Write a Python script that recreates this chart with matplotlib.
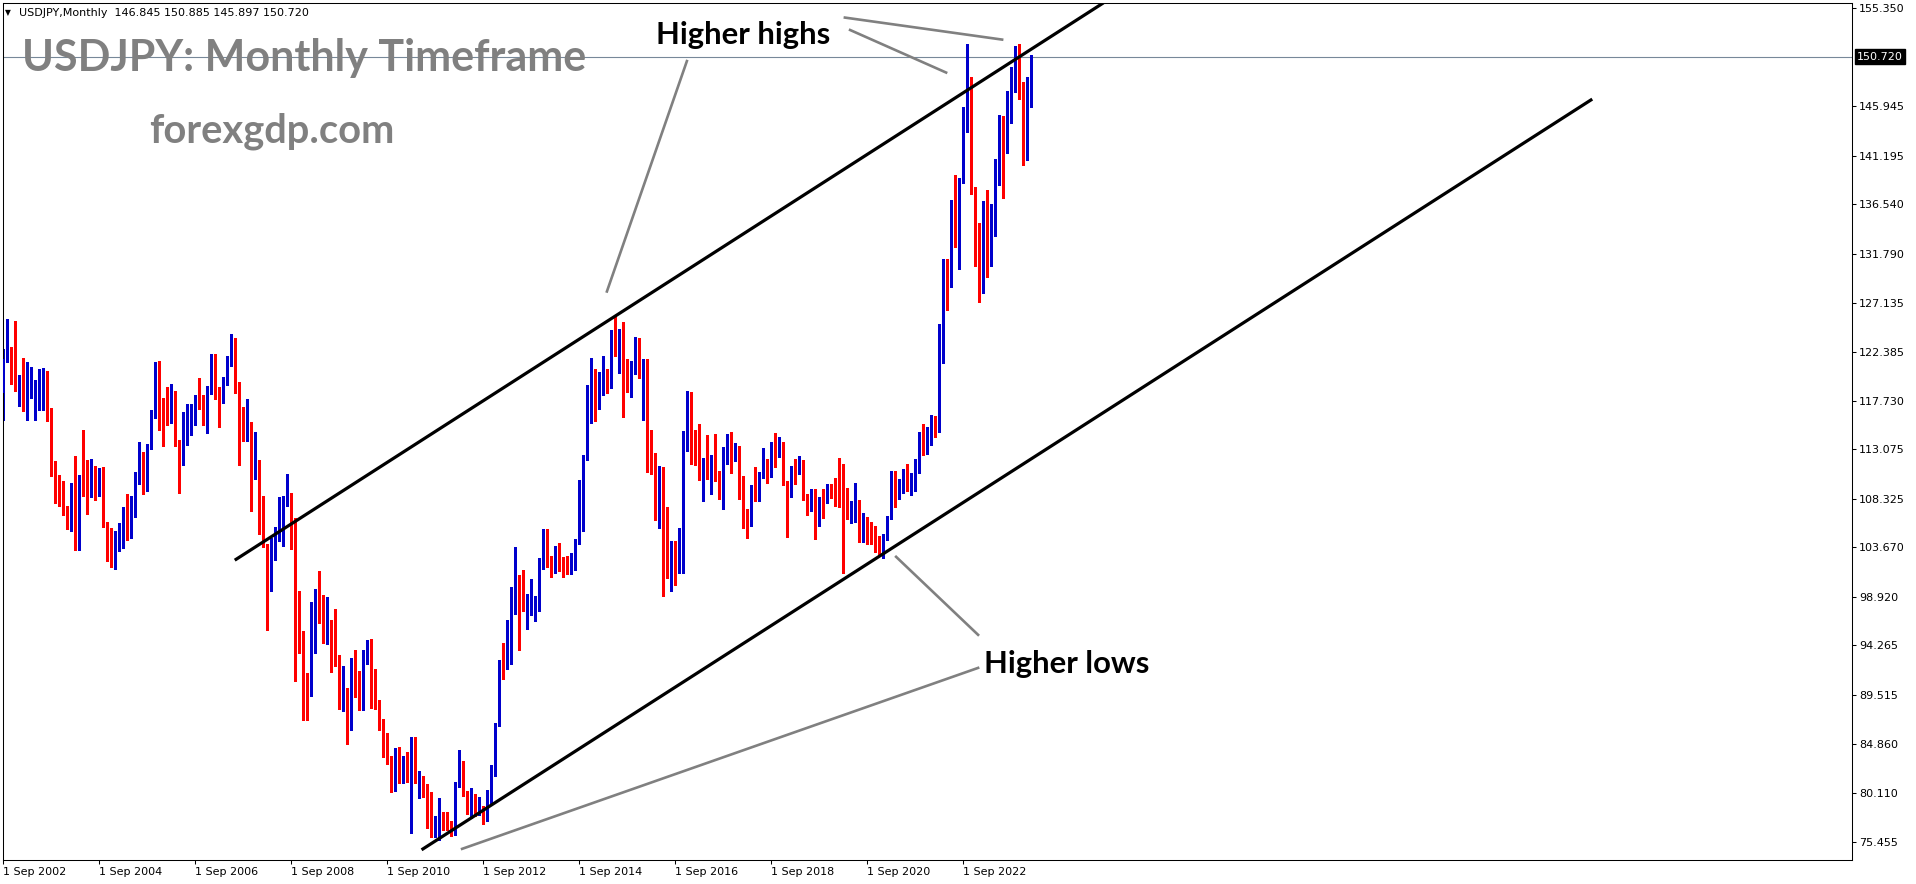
import matplotlib.pyplot as plt

# USDJPY monthly candles, Sep 2002 .. Feb 2024 (one value per month)
opens = [
    118.5, 121.7, 122.5, 122.4,
    118.8, 119.9, 117.5, 118.1, 119.0, 119.3, 119.8, 120.5, 116.7, 111.4, 109.8, 109.6,
    107.3, 105.6, 109.0, 104.2, 110.5, 109.5, 108.7, 111.2, 109.0, 110.1, 105.8, 103.1,
    102.6, 103.7, 104.6, 107.3, 104.8, 108.6, 110.9, 112.5, 110.9, 113.4, 116.7, 119.8,
    117.8, 117.2, 115.8, 117.7, 113.8, 112.5, 114.4, 114.6, 117.2, 118.1, 117.0, 115.7,
    119.0, 120.7, 118.4, 117.8, 119.5, 121.7, 123.2, 118.6, 115.8, 114.8, 115.4, 111.2,
    111.7, 106.3, 103.9, 99.7, 104.0, 105.5, 106.1, 108.1, 108.8, 106.1, 98.5, 95.5,
    90.7, 89.9, 97.6, 99.0, 98.6, 95.3, 96.4, 94.7, 93.0, 89.7, 90.1, 86.4,
    93.0, 90.3, 88.9, 93.5, 94.0, 91.3, 88.4, 86.5, 84.2, 83.5, 80.4, 83.7,
    81.2, 82.0, 81.8, 83.1, 81.2, 81.5, 80.6, 77.0, 76.7, 77.1, 78.2, 77.6,
    76.9, 76.2, 81.1, 82.9, 79.9, 78.3, 79.8, 78.1, 78.4, 77.9, 79.8, 82.5,
    86.7, 92.6, 92.4, 94.2, 97.4, 100.4, 99.1, 97.9, 98.2, 98.3, 98.4, 102.4,
    105.3, 102.0, 101.8, 103.2, 102.2, 101.8, 101.3, 102.8, 104.1, 109.6, 112.3, 118.6,
    119.8, 117.4, 119.6, 120.1, 119.4, 124.2, 122.5, 123.9, 121.2, 119.9, 120.6, 123.1,
    120.2, 121.1, 112.7, 112.6, 106.5, 110.7, 103.3, 102.1, 103.4, 101.3, 104.8, 114.5,
    117.0, 112.8, 112.7, 111.4, 111.5, 110.8, 112.4, 110.3, 110.0, 112.5, 113.6, 112.5,
    112.7, 109.2, 106.6, 106.3, 109.3, 108.8, 110.7, 111.8, 111.0, 113.7, 112.9, 113.6,
    109.7, 108.9, 111.4, 110.8, 111.4, 108.3, 107.8, 108.8, 106.3, 108.1, 108.0, 109.5,
    108.6, 108.4, 107.9, 107.5, 106.9, 107.8, 107.9, 105.9, 106.0, 105.5, 104.6, 104.3,
    103.2, 104.7, 106.6, 110.7, 109.3, 109.6, 111.1, 109.7, 110.0, 111.3, 113.9, 113.2,
    115.1, 115.2, 115.0, 121.7, 129.8, 128.7, 135.7, 133.2, 138.7, 144.7, 148.7, 138.1,
    131.1, 130.1, 136.2, 132.8, 136.3, 139.3, 144.3, 142.3, 145.5, 149.4, 151.7, 148.2,
    141.0, 146.845,
]
highs = [
    122.7, 125.6, 122.9, 125.4,
    120.2, 121.8, 121.4, 121.0, 119.7, 120.8, 120.9, 120.6, 117.0, 111.9, 110.6, 110.0,
    107.6, 109.8, 112.4, 110.6, 114.9, 112.0, 112.1, 111.5, 111.3, 111.4, 106.1, 105.5,
    105.2, 106.0, 107.5, 108.8, 108.6, 110.9, 113.8, 112.8, 113.6, 116.8, 121.4, 121.5,
    118.0, 119.0, 119.3, 118.7, 114.0, 116.6, 117.4, 117.4, 118.3, 119.9, 118.3, 119.1,
    122.2, 122.2, 119.0, 120.0, 122.0, 124.1, 123.7, 119.5, 117.1, 117.9, 115.7, 114.7,
    112.0, 108.6, 104.0, 104.6, 105.6, 108.5, 108.6, 110.7, 108.9, 106.5, 99.5, 95.6,
    91.6, 98.4, 99.7, 101.4, 99.1, 98.9, 96.7, 97.8, 93.3, 92.3, 90.2, 93.1,
    93.8, 91.8, 93.8, 94.8, 94.9, 92.0, 89.0, 87.2, 85.9, 83.7, 84.4, 84.5,
    83.7, 84.0, 85.5, 85.5, 82.2, 81.7, 81.0, 80.2, 77.9, 79.6, 78.3, 78.3,
    77.4, 81.2, 84.2, 83.2, 80.3, 80.6, 80.0, 79.7, 78.9, 80.4, 82.8, 86.8,
    92.9, 94.5, 96.7, 99.9, 103.7, 101.0, 101.5, 99.2, 100.6, 99.0, 102.6, 105.4,
    105.4, 102.8, 103.8, 104.1, 102.7, 102.8, 103.1, 104.5, 110.1, 112.5, 119.2, 121.8,
    120.8, 120.5, 122.0, 120.8, 124.5, 125.9, 124.6, 125.3, 121.7, 121.5, 123.8, 123.7,
    121.7, 121.7, 114.9, 112.7, 111.5, 111.4, 107.5, 104.3, 104.3, 105.5, 114.8, 118.7,
    118.6, 114.9, 115.5, 112.2, 114.4, 112.5, 114.5, 111.0, 113.3, 114.5, 114.7, 113.7,
    113.4, 110.5, 107.3, 109.6, 111.4, 110.9, 113.2, 112.1, 113.8, 114.6, 114.2, 113.8,
    110.0, 111.5, 112.1, 112.4, 112.0, 108.8, 109.3, 109.3, 108.5, 109.3, 109.7, 109.7,
    110.3, 112.2, 111.7, 109.4, 108.1, 109.8, 108.2, 107.0, 106.6, 106.1, 105.7, 104.8,
    104.9, 106.7, 111.0, 111.0, 110.2, 111.2, 111.7, 110.8, 112.1, 114.7, 115.5, 115.2,
    116.4, 116.3, 125.1, 131.3, 131.3, 137.0, 139.4, 139.1, 145.9, 151.95, 148.8, 138.2,
    134.8, 136.9, 137.9, 136.6, 140.9, 145.1, 145.0, 147.4, 149.7, 151.75, 151.9, 148.3,
    148.8, 150.885,
]
lows = [
    115.9, 121.4, 119.3, 118.7,
    117.2, 116.7, 115.9, 118.0, 115.9, 116.8, 116.8, 115.8, 110.5, 107.9, 107.6, 106.8,
    105.4, 105.2, 103.4, 103.4, 108.6, 106.9, 108.5, 108.2, 108.6, 105.6, 102.4, 101.8,
    101.6, 103.3, 103.6, 104.4, 104.6, 106.6, 109.7, 108.8, 109.1, 113.1, 116.1, 114.9,
    113.4, 115.4, 115.6, 113.4, 108.9, 111.6, 113.5, 114.4, 115.4, 116.9, 115.4, 114.6,
    118.4, 117.9, 115.2, 117.5, 119.2, 121.1, 118.5, 111.6, 113.9, 113.9, 107.2, 110.2,
    104.9, 103.7, 95.7, 99.5, 102.5, 104.3, 103.8, 107.6, 103.5, 90.9, 93.5, 87.1,
    87.1, 89.4, 93.5, 96.4, 94.5, 94.4, 91.7, 92.3, 88.2, 88.0, 84.8, 86.2,
    89.3, 88.1, 88.1, 92.5, 88.3, 88.2, 86.2, 83.6, 82.9, 80.2, 80.3, 81.1,
    81.1, 81.2, 76.3, 81.1, 79.6, 79.7, 76.8, 75.9, 75.9, 75.6, 76.6, 76.6,
    76.0, 76.1, 80.7, 79.8, 78.1, 77.7, 77.9, 78.0, 77.1, 77.4, 79.1, 81.7,
    86.5, 91.0, 92.0, 92.5, 97.3, 93.8, 97.6, 95.8, 97.2, 96.6, 97.6, 101.6,
    101.8, 100.8, 101.2, 101.4, 100.8, 101.1, 101.1, 101.5, 104.0, 105.2, 112.0, 115.6,
    115.8, 116.9, 118.3, 118.5, 118.9, 122.0, 120.4, 116.2, 118.6, 118.1, 120.3, 119.9,
    115.9, 110.9, 110.7, 106.3, 105.5, 99.0, 100.7, 99.5, 100.1, 101.2, 101.2, 112.9,
    111.7, 111.6, 110.1, 108.1, 110.2, 108.8, 110.0, 108.3, 107.3, 111.7, 110.8, 111.9,
    108.3, 105.5, 104.6, 105.7, 108.1, 108.1, 110.3, 109.8, 110.4, 111.4, 112.3, 109.6,
    104.7, 108.5, 109.7, 110.7, 108.2, 106.8, 107.2, 104.5, 105.7, 106.5, 107.9, 108.4,
    107.6, 107.5, 101.2, 106.4, 106.0, 106.1, 104.2, 104.2, 104.0, 104.0, 103.2, 102.9,
    102.6, 104.4, 106.4, 107.5, 108.3, 108.9, 109.1, 108.7, 109.1, 110.8, 112.5, 112.6,
    113.5, 114.2, 114.7, 121.3, 126.4, 128.6, 132.5, 130.4, 138.6, 143.5, 137.5, 130.6,
    127.2, 128.1, 129.6, 130.6, 133.5, 138.4, 137.2, 141.5, 144.4, 147.3, 146.7, 140.3,
    140.8, 145.897,
]
closes = [
    121.7, 122.5, 122.4, 118.8,
    119.9, 117.5, 118.1, 119.0, 119.3, 119.8, 120.5, 116.7, 111.4, 109.8, 109.6, 107.3,
    105.6, 109.0, 104.2, 110.5, 109.5, 108.7, 111.2, 109.0, 110.1, 105.8, 103.1, 102.6,
    103.7, 104.6, 107.3, 104.8, 108.6, 110.9, 112.5, 110.9, 113.4, 116.7, 119.8, 117.8,
    117.2, 115.8, 117.7, 113.8, 112.5, 114.4, 114.6, 117.2, 118.1, 117.0, 115.7, 119.0,
    120.7, 118.4, 117.8, 119.5, 121.7, 123.2, 118.6, 115.8, 114.8, 115.4, 111.2, 111.7,
    106.3, 103.9, 99.7, 104.0, 105.5, 106.1, 108.1, 108.8, 106.1, 98.5, 95.5, 90.7,
    89.9, 97.6, 99.0, 98.6, 95.3, 96.4, 94.7, 93.0, 89.7, 90.1, 86.4, 93.0,
    90.3, 88.9, 93.5, 94.0, 91.3, 88.4, 86.5, 84.2, 83.5, 80.4, 83.7, 81.2,
    82.0, 81.8, 83.1, 81.2, 81.5, 80.6, 77.0, 76.7, 77.1, 78.2, 77.6, 76.9,
    76.2, 81.1, 82.9, 79.9, 78.3, 79.8, 78.1, 78.4, 77.9, 79.8, 82.5, 86.7,
    92.6, 92.4, 94.2, 97.4, 100.4, 99.1, 97.9, 98.2, 98.3, 98.4, 102.4, 105.3,
    102.0, 101.8, 103.2, 102.2, 101.8, 101.3, 102.8, 104.1, 109.6, 112.3, 118.6, 119.8,
    117.4, 119.6, 120.1, 119.4, 124.2, 122.5, 123.9, 121.2, 119.9, 120.6, 123.1, 120.2,
    121.1, 112.7, 112.6, 106.5, 110.7, 103.3, 102.1, 103.4, 101.3, 104.8, 114.5, 117.0,
    112.8, 112.7, 111.4, 111.5, 110.8, 112.4, 110.3, 110.0, 112.5, 113.6, 112.5, 112.7,
    109.2, 106.6, 106.3, 109.3, 108.8, 110.7, 111.8, 111.0, 113.7, 112.9, 113.6, 109.7,
    108.9, 111.4, 110.8, 111.4, 108.3, 107.8, 108.8, 106.3, 108.1, 108.0, 109.5, 108.6,
    108.4, 107.9, 107.5, 106.9, 107.8, 107.9, 105.9, 106.0, 105.5, 104.6, 104.3, 103.2,
    104.7, 106.6, 110.7, 109.3, 109.6, 111.1, 109.7, 110.0, 111.3, 113.9, 113.2, 115.1,
    115.2, 115.0, 121.7, 129.8, 128.7, 135.7, 133.2, 138.7, 144.7, 148.7, 138.1, 131.1,
    130.1, 136.2, 132.8, 136.3, 139.3, 144.3, 142.3, 145.5, 149.4, 151.7, 148.2, 141.0,
    146.9, 150.720,
]

tick_years = [2002, 2004, 2006, 2008, 2010, 2012, 2014, 2016, 2018, 2020, 2022]
price_ticks = [155.350, 145.945, 141.195, 136.540, 131.790, 127.135, 122.385, 117.730,
               113.075, 108.325, 103.670, 98.920, 94.265, 89.515, 84.860, 80.110, 75.455]
last_price = 150.720
header = "USDJPY,Monthly  146.845 150.885 145.897 150.720"

# channel lines and pointer lines, (month index, price) pairs
upper_channel = ([58.2, 274.7], [102.52, 155.79])
lower_channel = ([104.9, 396.9], [74.75, 146.56])
pointers = [
    ([210.4, 249.7], [154.46, 152.35]),
    ([211.7, 235.7], [153.27, 149.19]),
    ([170.9, 150.9], [150.29, 128.2]),
    ([243.7, 223.2], [95.28, 102.76]),
    ([243.7, 114.7], [92.11, 74.76]),
]

BULL = '#0000CC'
BEAR = '#FF0000'
W, H = 1916, 884
L, R, T, B = 2.5, 1852, 2.5, 860

fig = plt.figure(figsize=(W / 100, H / 100), dpi=100)
ax = fig.add_axes([L / W, 1 - B / H, (R - L) / W, (B - T) / H])

def px_month(x):
    return (x - 3.3) / 4

def px_price(y):
    return 155.35 - (y - 8.3) / 10.43

ax.set_xlim(px_month(L), px_month(R))
ax.set_ylim(px_price(B), px_price(T))

idx = list(range(len(opens)))
cols = [BULL if c > o else BEAR for o, c in zip(opens, closes)]
ax.vlines(idx, lows, highs, colors=cols, linewidth=0.75, antialiased=False, zorder=2)
body_h = [max(abs(c - o), 0.12) for o, c in zip(opens, closes)]
body_b = [min(o, c) for o, c in zip(opens, closes)]
ax.bar(idx, body_h, bottom=body_b, width=0.8, color=cols, linewidth=0,
       antialiased=False, zorder=3)

ax.axhline(last_price, color='#778899', lw=0.8, zorder=1)

ax.plot(*upper_channel, color='black', lw=2.3, zorder=4)
ax.plot(*lower_channel, color='black', lw=2.3, zorder=4)
for xs, ys in pointers:
    ax.plot(xs, ys, color='#808080', lw=1.9, zorder=4)

# axes look
for s in ax.spines.values():
    s.set_linewidth(0.75)
    s.set_color('black')
ax.yaxis.tick_right()
ax.set_yticks(price_ticks)
ax.set_yticklabels([f'{v:.3f}' for v in price_ticks])
ax.set_xticks([(y - 2002) * 12 for y in tick_years])
ax.set_xticklabels([f'1 Sep {y}' for y in tick_years])
ax.tick_params(axis='both', direction='out', length=3, width=0.75, labelsize=8,
               colors='black')
ax.tick_params(axis='y', pad=2)
ax.tick_params(axis='x', pad=2)
for lab in ax.get_xticklabels():
    lab.set_horizontalalignment('left')

ax.annotate(f'{last_price:.3f}', xy=(1, last_price), xycoords=('axes fraction', 'data'),
            xytext=(3.5, 0), textcoords='offset points', va='center', ha='left',
            fontsize=8, color='white', annotation_clip=False,
            bbox=dict(boxstyle='square,pad=0.2', fc='black', ec='black'))

# texts
fig.text(5 / W, 1 - 13 / H, '\u25bc', fontsize=5.5, va='center', ha='left')
fig.text(19 / W, 1 - 13 / H, header, fontsize=8, va='center', ha='left',
         family='DejaVu Sans')
fig.text(22 / W, 1 - 71 / H, 'USDJPY: Monthly Timeframe', fontsize=31, weight='bold',
         color='#808080', family='Lato', va='baseline', ha='left')
fig.text(149 / W, 1 - 143 / H, 'forexgdp.com', fontsize=28.7, weight='bold',
         color='#808080', family='Lato', va='baseline', ha='left')
fig.text(656 / W, 1 - 44 / H, 'Higher highs', fontsize=22.3, weight='bold',
         color='black', family='Lato', va='baseline', ha='left')
fig.text(984 / W, 1 - 673 / H, 'Higher lows', fontsize=22.3, weight='bold',
         color='black', family='Lato', va='baseline', ha='left')

fig.savefig('out.png', dpi=100, facecolor='white')
